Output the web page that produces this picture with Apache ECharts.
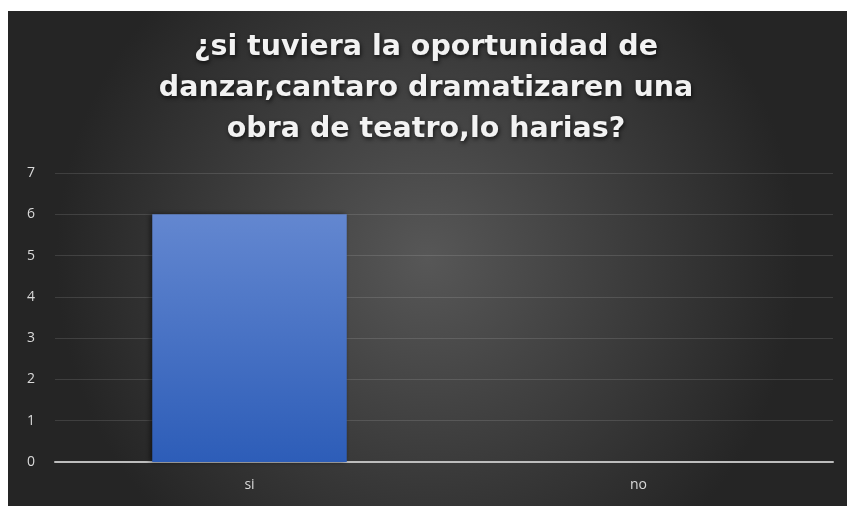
<!DOCTYPE html>
<html>
<head>
<meta charset="utf-8">
<script src="https://cdn.jsdelivr.net/npm/echarts@6/dist/echarts.min.js"></script>
<style>
html,body{margin:0;padding:0;background:#ffffff;width:847px;height:506px;overflow:hidden;}
#c{position:absolute;left:8px;top:11px;width:839px;height:495px;}
</style>
</head>
<body>
<div id="c"></div>
<script>
const titleText = "¿si tuviera la oportunidad de\ndanzar,cantaro dramatizaren una\nobra de teatro,lo harias?";
const categories = ["si", "no"];
const values = [6, 0];
const yTicks = { min: 0, max: 7, interval: 1 };

const chart = echarts.init(document.getElementById('c'), null, { renderer: 'canvas' });
chart.setOption({
  animation: false,
  backgroundColor: {
    type: 'radial', x: 0.5, y: 0.5, r: 0.75,
    colorStops: [{ offset: 0, color: '#575757' }, { offset: 1, color: '#252525' }]
  },
  graphic: [{
    type: 'text',
    x: 418,
    y: 16,
    style: {
      text: titleText,
      align: 'center',
      verticalAlign: 'top',
      fill: '#f2f2f2',
      fontFamily: '"DejaVu Sans", Verdana, sans-serif',
      fontWeight: 'bold',
      fontSize: 28.5,
      lineHeight: 41,
      textShadowColor: 'rgba(0,0,0,0.7)',
      textShadowBlur: 4,
      textShadowOffsetX: 1,
      textShadowOffsetY: 2
    }
  }],
  grid: { left: 47, right: 14, top: 162, bottom: 44 },
  xAxis: {
    type: 'category',
    data: categories,
    axisLine: { lineStyle: { color: '#bdbdbd', width: 2 } },
    axisTick: { show: false },
    axisLabel: { color: '#d9d9d9', fontSize: 14, margin: 16, fontFamily: 'Open Sans' }
  },
  yAxis: {
    type: 'value',
    min: yTicks.min, max: yTicks.max, interval: yTicks.interval,
    axisLine: { show: false },
    axisTick: { show: false },
    axisLabel: { color: '#d9d9d9', fontSize: 14, margin: 20, fontFamily: 'Open Sans' },
    splitLine: { lineStyle: { color: 'rgba(255,255,255,0.12)', width: 1 } }
  },
  series: [{
    type: 'bar',
    data: values,
    barWidth: '50%',
    itemStyle: {
      color: {
        type: 'linear', x: 0, y: 0, x2: 0, y2: 1,
        colorStops: [{ offset: 0, color: '#6387d0' }, { offset: 1, color: '#2d5db8' }]
      },
      shadowColor: 'rgba(0,0,0,0.5)',
      shadowBlur: 5,
      shadowOffsetX: -2
    }
  }]
});
</script>
</body>
</html>
